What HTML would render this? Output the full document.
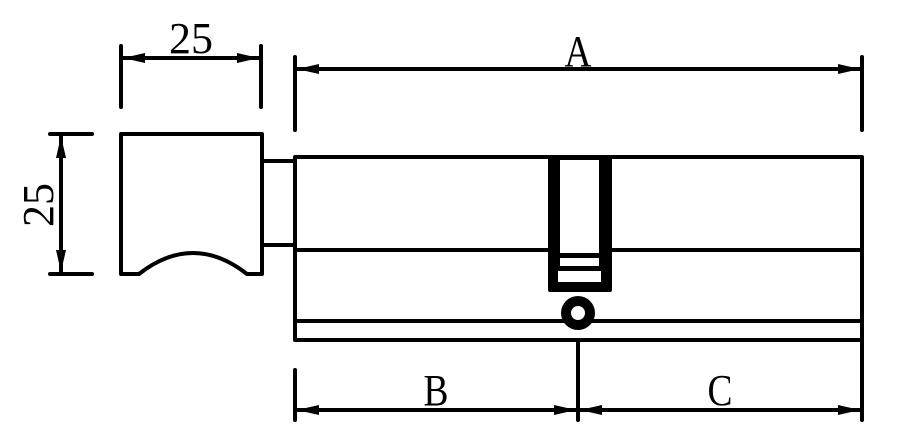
<!DOCTYPE html>
<html><head><meta charset="utf-8"><style>html,body{margin:0;padding:0;background:#fff}svg{display:block}.t{font-family:"Liberation Serif",serif;font-size:44px}</style></head>
<body>
<svg width="897" height="438" viewBox="0 0 897 438" xmlns="http://www.w3.org/2000/svg">
<g stroke="#000" stroke-width="4" fill="none" stroke-linecap="round" stroke-linejoin="round">
<line x1="121" y1="46" x2="121" y2="107"/><line x1="261" y1="46" x2="261" y2="107"/>
<line x1="123" y1="58" x2="259" y2="58"/>
<line x1="50" y1="134" x2="92" y2="134"/><line x1="50" y1="274" x2="92" y2="274"/>
<line x1="61" y1="136" x2="61" y2="272"/>
<path d="M121 134 H262 V274 H247 Q193 232 139 274 H121 Z"/>
<line x1="262" y1="161" x2="295" y2="161"/><line x1="262" y1="245" x2="295" y2="245"/>
<line x1="295" y1="57" x2="295" y2="130"/><line x1="862" y1="57" x2="862" y2="130"/>
<line x1="297" y1="69" x2="860" y2="69"/>
<path d="M295 161 V157 H862 V340 H295 Z"/>
<line x1="295" y1="250" x2="862" y2="250"/>
<line x1="295" y1="321" x2="862" y2="321"/>
<line x1="295" y1="370" x2="295" y2="420"/><line x1="578" y1="340" x2="578" y2="420"/><line x1="862" y1="340" x2="862" y2="420"/>
<line x1="297" y1="410" x2="860" y2="410"/>
</g>
<rect x="548" y="157" width="64" height="135" fill="#000" rx="2"/>
<rect x="560" y="160" width="39" height="93" fill="#fff"/>
<rect x="560" y="258" width="39" height="8" fill="#fff"/>
<rect x="558" y="271" width="43" height="11" fill="#fff"/>
<circle cx="578" cy="313" r="17" fill="#000"/>
<circle cx="578" cy="313" r="7" fill="#fff"/>
<g fill="#000">
<polygon points="123,58 145,53 145,63"/><polygon points="259,58 237,53 237,63"/>
<polygon points="61,136 56,158 66,158"/><polygon points="61,272 56,250 66,250"/>
<polygon points="297,69 319,64 319,74"/><polygon points="860,69 838,64 838,74"/>
<polygon points="297,410 319,405 319,415"/><polygon points="576,410 554,405 554,415"/>
<polygon points="580,410 602,405 602,415"/><polygon points="860,410 838,405 838,415"/>
</g>
<g class="t" fill="#000" text-anchor="middle">
<text transform="translate(191 53)">25</text>
<text transform="translate(578 66) scale(0.85 1)">A</text>
<text transform="translate(436 405) scale(0.85 1)">B</text>
<text transform="translate(720 405) scale(0.85 1)">C</text>
<text transform="translate(53 205) rotate(-90)">25</text>
</g>
</svg>
</body></html>
